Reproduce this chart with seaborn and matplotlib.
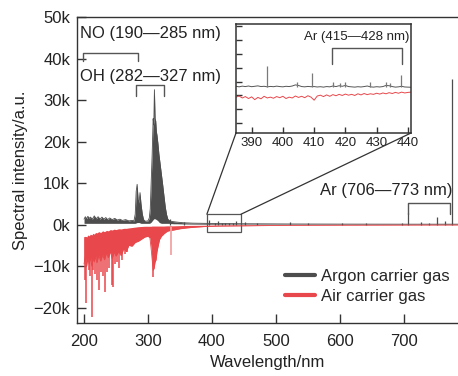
import matplotlib
matplotlib.use("Agg")
import matplotlib.pyplot as plt
import seaborn as sns
from matplotlib.patches import Rectangle, ConnectionPatch
from matplotlib.lines import Line2D

# ---- data (intensity in thousands of counts, wavelength in nm) ----
# Argon carrier gas: band of the dense spectrum (upper / lower edge)
ar_wl = [200, 202, 204, 206, 208, 210, 213, 216, 219, 222, 225, 228,
         231, 234, 237, 240, 244, 248, 252, 256, 260, 265, 270, 275,
         278, 280, 281.5, 283, 284.5, 286, 287.5, 289, 291, 293, 296, 300,
         302, 303.5, 305, 306.5, 308, 309, 310, 311, 312, 313, 314, 315.5,
         317, 319, 321, 323, 325, 327, 329, 331, 333, 336, 340, 345,
         355, 370, 390, 420, 460, 520, 600, 700, 785]
ar_top = [1.3, 1.9, 1.4, 2.0, 1.5, 1.8, 1.3, 2.1, 1.4, 1.9, 1.3, 1.8,
          1.3, 1.7, 1.2, 1.6, 1.2, 1.5, 1.1, 1.3, 1.0, 1.2, 0.9, 1.0,
          0.9, 2.5, 8.0, 9.7, 6.0, 5.2, 7.7, 5.0, 2.6, 1.2, 0.8, 0.9,
          1.6, 3.8, 10.5, 17.0, 25.5, 24.0, 32.5, 25.5, 25.0, 22.5, 21.5, 19.5,
          17.0, 14.5, 12.0, 9.5, 6.8, 4.2, 2.4, 1.3, 1.0, 0.8, 0.7, 0.6,
          0.45, 0.35, 0.3, 0.25, 0.2, 0.15, 0.12, 0.1, 0.1]
ar_low = [0.3, 0.3, 0.3, 0.3, 0.3, 0.3, 0.3, 0.3, 0.3, 0.3, 0.3, 0.3,
          0.3, 0.3, 0.3, 0.3, 0.3, 0.3, 0.3, 0.3, 0.3, 0.3, 0.3, 0.3,
          0.3, 0.3, 0.4, 0.5, 0.5, 0.5, 0.4, 0.3, 0.3, 0.3, 0.3, 0.3,
          0.3, 0.4, 0.6, 0.9, 1.2, 1.4, 1.4, 1.4, 1.3, 1.2, 1.1, 0.9,
          0.6, 0.4, 0.3, 0.3, 0.3, 0.3, 0.3, 0.3, 0.3, 0.25, 0.2, 0.2,
          0.15, 0.12, 0.1, 0.1, 0.08, 0.06, 0.05, 0.05, 0.05]
# Argon carrier gas: isolated emission lines
ar_line_wl = [334, 357, 394.9, 404.4, 409.4, 415.9, 420.1, 427.2, 433.4, 437.7,
              451, 470, 522, 550, 603, 641, 696.5, 706.7, 727.3, 738.4,
              751.5, 763.5, 775]
ar_line_top = [1.4, 0.7, 1.1, 0.5, 0.8, 0.5, 0.5, 0.5, 0.5, 0.8,
               0.6, 0.4, 0.6, 0.5, 0.4, 0.4, 0.5, 2.8, 0.6, 0.5,
               1.9, 0.8, 35.0]

# Air carrier gas (plotted negative): band edges
air_wl = [200, 202, 204, 206, 208, 210, 212, 214, 216, 218, 220,
          223, 226, 229, 232, 235, 238, 241, 244, 247, 250,
          254, 258, 262, 266, 270, 275, 280, 285, 290, 295, 300,
          303, 305, 306.5, 308, 309.5, 311, 312.5, 314, 316, 318,
          321, 325, 330, 335, 340, 350, 360, 375, 390, 410, 440,
          500, 600, 700, 785]
air_upper = [-3.3, -2.8, -3.0, -2.5, -2.7, -2.3, -2.5, -2.1, -2.3, -1.9, -2.0,
             -1.7, -1.9, -1.5, -1.7, -1.4, -1.5, -1.2, -1.3, -1.1, -1.2,
             -1.0, -1.05, -0.9, -0.9, -0.8, -0.7, -0.6, -0.5, -0.45, -0.4, -0.4,
             -0.4, -0.4, -0.35, -0.35, -0.35, -0.35, -0.35, -0.35, -0.35, -0.35,
             -0.35, -0.35, -0.3, -0.3, -0.3, -0.25, -0.2, -0.18, -0.15, -0.12, -0.1,
             -0.08, -0.06, -0.05, -0.05]
air_lower = [-9.5, -7.5, -10.0, -8.0, -9.5, -7.8, -10.0, -8.2, -9.0, -7.5, -9.2,
             -7.3, -8.8, -7.2, -8.5, -6.8, -8.0, -6.5, -8.2, -6.6, -7.6,
             -6.5, -7.5, -5.8, -6.5, -5.0, -5.2, -4.3, -4.0, -3.5, -3.0, -2.8,
             -3.2, -6.0, -8.5, -11.0, -10.5, -9.0, -8.5, -6.5, -5.0, -3.6,
             -2.8, -2.2, -1.6, -1.4, -1.3, -1.0, -0.8, -0.6, -0.45, -0.35, -0.3,
             -0.2, -0.15, -0.12, -0.1]
# Air carrier gas: deep lines
air_line_wl = [201.6, 203.5, 207.0, 209.5, 212.5, 214.5, 217.5, 219.8, 223.4, 226.5,
               229.5, 233.5, 236.0, 239.5, 243.2, 245.5, 249.0, 251.5, 254.0, 259.0,
               263.5, 267.5, 308.3]
air_line_min = [-13.4, -19.0, -11.0, -12.5, -22.2, -11.0, -12.0, -13.4, -15.8, -11.5,
                -12.5, -16.2, -11.5, -10.5, -14.6, -15.0, -9.5, -9.0, -10.5, -8.5,
                -7.2, -6.5, -12.7]
n2_wl = [336]
n2_min = [-7.4]

# inset: 385-441 nm, counts
inset_wl = list(range(385, 442))
inset_ar = [330, 310, 335, 320, 340, 315, 330, 345, 320, 330, 310, 325, 315, 335, 320,
            310, 330, 320, 340, 380, 360, 320, 310, 325, 315, 320, 305, 315, 300, 320,
            310, 340, 320, 350, 330, 360, 320, 310, 300, 315, 305, 320, 340, 310, 300,
            315, 305, 320, 360, 350, 320, 300, 310, 330, 305, 300, 295]
inset_air = [-60, -20, -90, -40, -110, -50, -150, -70, -120, -30, -90, -60, -100, -40, -80,
             -30, -110, -60, -90, -20, -70, -30, -80, -10, -60, -170, -20, 10, -40, 20,
             -30, 30, -10, 40, 0, 50, 10, 40, 0, 60, 20, 70, 30, 60, 40,
             80, 50, 90, 60, 100, 70, 110, 80, 120, 90, 110, 120]
inset_line_wl = [395.0, 404.6, 409.4, 416.0, 418.4, 419.9, 427.9, 432.9, 434.3, 437.7]
inset_line_top = [1050, 470, 790, 470, 440, 480, 470, 480, 450, 740]

xticks = [200, 300, 400, 500, 600, 700]
yticks = [-20, -10, 0, 10, 20, 30, 40, 50]
ytick_labels = ["\u221220k", "\u221210k", "0k", "10k", "20k", "30k", "40k", "50k"]
inset_xticks = [390, 400, 410, 420, 430, 440]

BLACK = "#4d4d4d"
RED = "#e8474b"
EDGE = "#333333"

sns.set_theme(style="ticks")
plt.rcParams["font.family"] = ["Liberation Sans", "DejaVu Sans"]
plt.rcParams["axes.edgecolor"] = EDGE
plt.rcParams["axes.linewidth"] = 1.0

fig = plt.figure(figsize=(4.58, 3.76), dpi=100)
ax = fig.add_axes([77 / 458, 53 / 376, 1 - 77 / 458, 306 / 376])

# argon spectrum
ax.fill_between(ar_wl, ar_low, ar_top, color=BLACK, lw=0)
sns.lineplot(x=ar_wl, y=ar_top, ax=ax, color=BLACK, lw=0.6)
ax.vlines(ar_line_wl, 0, ar_line_top, color=BLACK, lw=0.9)

# air spectrum
ax.fill_between(air_wl, air_lower, air_upper, color=RED, lw=0)
sns.lineplot(x=air_wl, y=air_lower, ax=ax, color=RED, lw=0.6)
ax.vlines(air_line_wl, air_line_min, -3.0, color=RED, lw=1.1)
ax.vlines(n2_wl, n2_min, -0.5, color="#f3a3a3", lw=1.3)

ax.set_xlim(189, 784.5)
ax.set_ylim(-23.7, 50)
ax.set_xticks(xticks)
ax.set_yticks(yticks)
ax.set_yticklabels(ytick_labels)
ax.tick_params(direction="in", length=6.5, width=1, labelsize=12, colors=EDGE,
               labelcolor="#222222")
ax.tick_params(axis="x", pad=8)
ax.tick_params(axis="y", pad=5)
ax.spines["right"].set_visible(False)
ax.set_xlabel("Wavelength/nm", fontsize=12, color="#222222", labelpad=4)
ax.set_ylabel("Spectral intensity/a.u.", fontsize=12, color="#222222", labelpad=4)


def bracket(a, x0, x1, ytop, ybot):
    a.plot([x0, x0, x1, x1], [ybot, ytop, ytop, ybot], color="#555555", lw=1)


bracket(ax, 199, 285, 41.3, 39.5)
ax.text(193.5, 46.0, "NO (190\u2014285 nm)", fontsize=12, va="center", ha="left", color="#222222")
bracket(ax, 280.7, 325.5, 33.6, 31.0)
ax.text(193.5, 35.6, "OH (282\u2014327 nm)", fontsize=12, va="center", ha="left", color="#222222")
bracket(ax, 707, 772, 5.3, 2.5)
ax.text(568.5, 8.2, "Ar (706\u2014773 nm)", fontsize=12, va="center", ha="left", color="#222222")

# zoom box and inset
ax.add_patch(Rectangle((392, -1.9), 53.3, 4.4, fill=False, ec="#555555", lw=0.9))

axins = fig.add_axes([236 / 458, 243 / 376, 175 / 458, 109 / 376])
axins.set_facecolor("white")
sns.lineplot(x=inset_wl, y=inset_ar, ax=axins, color="#555555", lw=0.7)
sns.lineplot(x=inset_wl, y=inset_air, ax=axins, color=RED, lw=0.7)
axins.vlines(inset_line_wl, 300, inset_line_top, color="#7a7a7a", lw=0.9)
axins.set_xlim(385, 441)
axins.set_ylim(-1350, 2570)
axins.set_xticks(inset_xticks)
axins.set_yticks([-1000, -500, 0, 500, 1000, 1500, 2000, 2500])
axins.set_yticklabels([])
axins.tick_params(direction="in", length=4, width=1, labelsize=9.5, colors=EDGE,
                  labelcolor="#222222", pad=3)
for s in axins.spines.values():
    s.set_linewidth(1.1)
bracket(axins, 415.8, 438.2, 1717, 1130)
axins.text(423.5, 2100, "Ar (415\u2014428 nm)", fontsize=9.5, va="center", ha="center",
           color="#222222")

for xa, xb in [((392, 2.5), (0, 0)), ((445.3, 2.5), (1, 0))]:
    con = ConnectionPatch(xyA=xa, coordsA=ax.transData, xyB=xb, coordsB=axins.transAxes,
                          color=EDGE, lw=0.9)
    fig.add_artist(con)

handles = [Line2D([], [], color=BLACK, lw=3), Line2D([], [], color=RED, lw=3)]
fig.legend(handles, ["Argon carrier gas", "Air carrier gas"], loc="center left",
           bbox_to_anchor=(285 / 458, 1 - 286 / 376), frameon=False, fontsize=12,
           handlelength=1.8, handletextpad=0.35, borderpad=0, borderaxespad=0,
           labelspacing=0.3)

fig.savefig("out.png", dpi=100)
